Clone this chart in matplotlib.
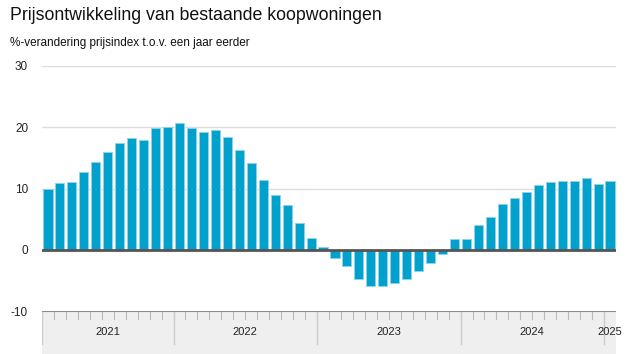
import matplotlib.pyplot as plt

plt.rcParams['font.family'] = ['Liberation Sans', 'DejaVu Sans']

# feb 2021 .. jan 2025, % change vs. one year earlier
months = ['2021-02', '2021-03', '2021-04', '2021-05', '2021-06', '2021-07', '2021-08',
          '2021-09', '2021-10', '2021-11', '2021-12',
          '2022-01', '2022-02', '2022-03', '2022-04', '2022-05', '2022-06', '2022-07',
          '2022-08', '2022-09', '2022-10', '2022-11', '2022-12',
          '2023-01', '2023-02', '2023-03', '2023-04', '2023-05', '2023-06', '2023-07',
          '2023-08', '2023-09', '2023-10', '2023-11', '2023-12',
          '2024-01', '2024-02', '2024-03', '2024-04', '2024-05', '2024-06', '2024-07',
          '2024-08', '2024-09', '2024-10', '2024-11', '2024-12',
          '2025-01']
values = [10.0, 10.9, 11.0, 12.7, 14.4, 16.0, 17.5, 18.2, 18.0, 19.9, 20.1,
          20.7, 19.9, 19.2, 19.5, 18.4, 16.3, 14.1, 11.4, 9.0, 7.3, 4.4, 2.0,
          0.5, -1.3, -2.6, -4.8, -5.9, -5.9, -5.5, -4.8, -3.4, -2.1, -0.7, 1.7,
          1.7, 4.1, 5.3, 7.4, 8.5, 9.5, 10.5, 11.0, 11.2, 11.3, 11.7, 10.8,
          11.3]
years = ['2021', '2022', '2023', '2024', '2025']
yticks = [-10, 0, 10, 20, 30]

fig = plt.figure(figsize=(6.27, 3.54), dpi=100)

W, H = 627, 354
x0, x1 = 42, 616
ax = fig.add_axes([x0 / W, 43 / H, (x1 - x0) / W, 245 / H])

n = len(values)
xs = list(range(n))
ax.bar(xs, values, width=0.76, color='#00a1cd', edgecolor='#8fd3ea', linewidth=0.6, zorder=3)
ax.set_xlim(-0.5, n - 0.5)
ax.set_ylim(-10, 30)
ax.set_yticks(yticks)
ax.set_yticklabels([str(t) for t in yticks], fontsize=8.5, color='#222222')
for t in [10, 20, 30]:
    ax.axhline(t, color='#dddddd', linewidth=1, zorder=1)
ax.axhline(0, color='#555555', linewidth=2, zorder=4)
ax.tick_params(axis='y', length=0, pad=10)
ax.tick_params(axis='x', bottom=False, labelbottom=False)
for s in ax.spines.values():
    s.set_visible(False)

# date band under the chart
bx = fig.add_axes([x0 / W, 0, (x1 - x0) / W, 43 / H])
bx.set_xlim(-0.5, n - 0.5)
bx.set_ylim(0, 1)
bx.axvspan(-0.5, n - 0.5, color='#efefef', zorder=0)
bx.axhline(1, color='#8c8c8c', linewidth=1.5, zorder=3)
year_start = {}
for i, m in enumerate(months):
    y = m[:4]
    if y not in year_start:
        year_start[y] = i
    bx.plot([i - 0.5, i - 0.5], [1, 0.82], color='#bbbbbb', linewidth=0.8, zorder=2)
starts = [year_start[y] for y in years] + [n]
for k, y in enumerate(years):
    a, b = starts[k] - 0.5, starts[k + 1] - 0.5
    bx.plot([a, a], [0.23, 1], color='#cccccc', linewidth=1, zorder=2)
    bx.text((a + b) / 2, 0.52, y, ha='center', va='center', fontsize=8, color='#222222')
bx.axis('off')

fig.text(10 / W, 1 - 15 / H, 'Prijsontwikkeling van bestaande koopwoningen',
         fontsize=12.8, va='center', ha='left', color='#111111')
fig.text(10 / W, 1 - 43 / H, '%-verandering prijsindex t.o.v. een jaar eerder',
         fontsize=8.5, va='center', ha='left', color='#111111')

fig.savefig('out.png', dpi=100)
